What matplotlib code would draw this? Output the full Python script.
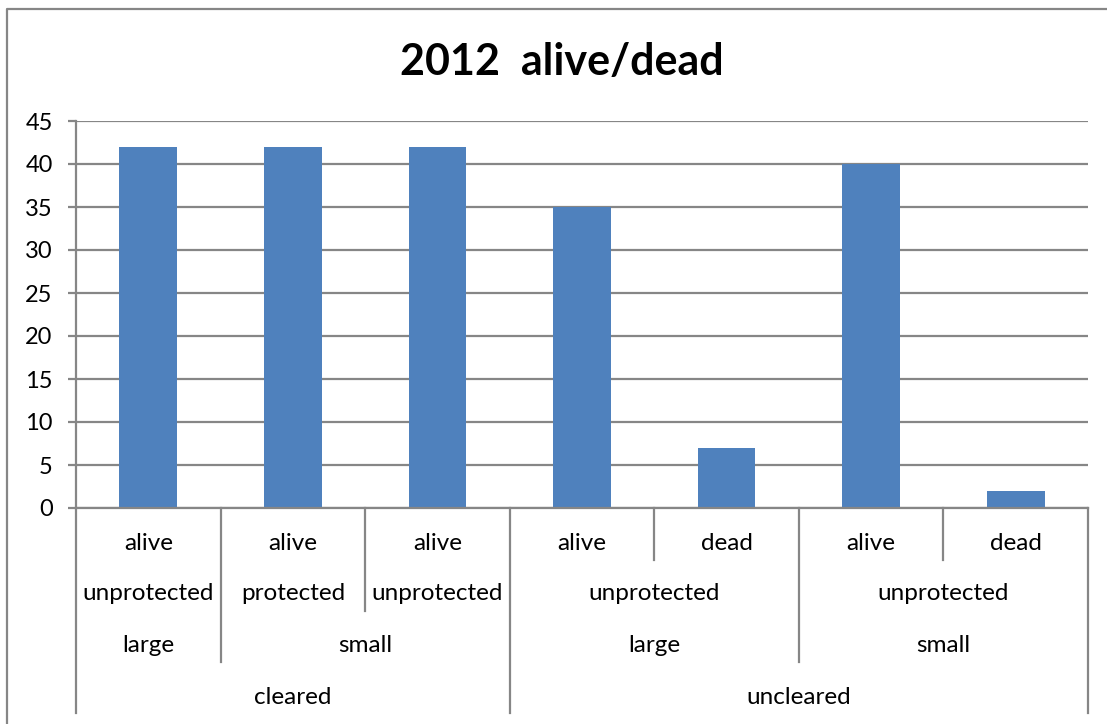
import numpy as np
import matplotlib.pyplot as plt
from matplotlib.transforms import blended_transform_factory

plt.rcParams['font.family'] = ['Lato', 'DejaVu Sans']

# Data
status = ["alive", "alive", "alive", "alive", "dead", "alive", "dead"]
counts = [42, 42, 42, 35, 7, 40, 2]
# grouped levels of the category axis: (label, span)
protection = [("unprotected", 1), ("protected", 1), ("unprotected", 1),
              ("unprotected", 2), ("unprotected", 2)]
size = [("large", 1), ("small", 2), ("large", 2), ("small", 2)]
clearing = [("cleared", 3), ("uncleared", 4)]
yticks = [0, 5, 10, 15, 20, 25, 30, 35, 40, 45]

GRID = "#868686"
BAR = "#4F81BD"

fig = plt.figure(figsize=(11.07, 7.24), dpi=100)
ax = fig.add_axes([76 / 1107, 1 - 508 / 724, 1012 / 1107, 387 / 724])

x = np.arange(len(counts))
ax.bar(x, counts, width=0.4, color=BAR, zorder=3)
ax.set_xlim(-0.5, len(counts) - 0.5)
ax.set_ylim(0, 45)
ax.set_yticks(yticks)
ax.yaxis.grid(True, color=GRID, linewidth=1.6, zorder=0)
ax.tick_params(axis="y", length=5.8, width=1.6, color=GRID, labelsize=17, pad=11)
ax.set_xticks([])
for s in ["top", "right", "bottom"]:
    ax.spines[s].set_visible(False)
ax.spines["left"].set_color(GRID)
ax.spines["left"].set_linewidth(1.6)

# multi-level category axis
tr = blended_transform_factory(ax.transData, ax.transAxes)
def px(v):
    return (508 - v) / 387

line_end = [px(v) for v in [508, 560, 611, 662, 713]]
text_y = [px(v) for v in [543, 594, 646, 697]]

levels = [[(s, 1) for s in status], protection, size, clearing]
n = len(counts)
depth = np.zeros(n + 1, dtype=int)
for li, lev in enumerate(levels):
    pos = -0.5
    for lab, span in lev:
        ax.text(pos + span / 2, text_y[li], lab,
                transform=tr, ha="center", va="center", fontsize=17.5,
                clip_on=False)
        pos += span
    edges = np.cumsum([0] + [sp for _, sp in lev])
    for e in edges:
        depth[e] = li + 1

for i in range(n + 1):
    ax.plot([i - 0.5, i - 0.5], [line_end[0], line_end[depth[i]]], transform=tr,
            color=GRID, linewidth=1.6, clip_on=False)
ax.plot([-0.5, n - 0.5], [0, 0], transform=tr, color=GRID, linewidth=1.6,
        clip_on=False, zorder=4)

fig.text(562 / 1107, 1 - 62 / 724, "2012  alive/dead", ha="center", va="center",
         fontsize=31, fontweight="bold")

# outer chart border (only top and left visible in the crop)
fig.add_artist(plt.Line2D([7 / 1107, 7 / 1107, 1], [0, 1 - 9 / 724, 1 - 9 / 724],
                          color=GRID, linewidth=1.6))

fig.savefig("out.png", dpi=100)
